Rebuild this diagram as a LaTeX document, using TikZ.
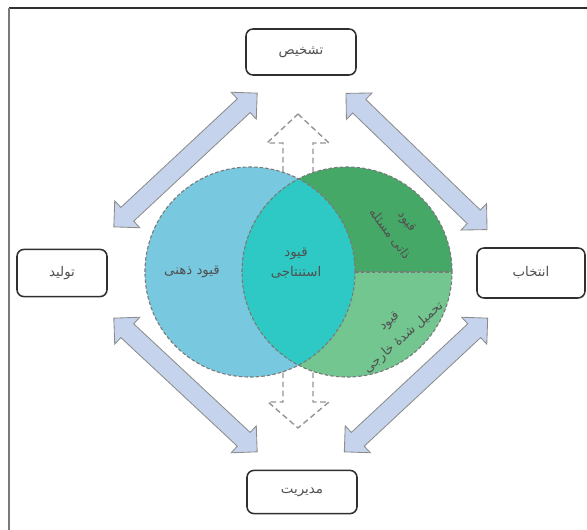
\documentclass[tikz,border=0pt]{standalone}
\usepackage{fontspec}
\usepackage{tikz}
\usetikzlibrary{shapes.arrows, calc}
\usepackage{xcolor}
\TeXXeTstate=1
\newfontfamily\persianfont[Script=Arabic]{DejaVu Sans}
\newcommand{\pers}[1]{\beginR #1\endR}
\definecolor{vennBlue}{HTML}{78C9DF}
\definecolor{vennTeal}{HTML}{2EC9C4}
\definecolor{vennGreen}{HTML}{45A867}
\definecolor{vennLight}{HTML}{73C690}
\definecolor{arrowFill}{HTML}{C5D4EC}
\definecolor{arrowDraw}{HTML}{8C8C8C}
\definecolor{textGray}{HTML}{505050}
\definecolor{dashGray}{HTML}{7A7A7A}
\definecolor{boxDraw}{HTML}{303030}

\begin{document}
\begin{tikzpicture}[
    x=0.025cm, y=-0.025cm,
    box/.style={draw=boxDraw, line width=1.1pt, rounded corners=5pt, fill=white,
        minimum width=2.75cm, minimum height=1.15cm, text=textGray,
        font=\persianfont\fontsize{9.5}{11}\selectfont},
    link/.style={double arrow, draw=arrowDraw, fill=arrowFill, line width=0.6pt,
        minimum height=4.9cm, inner sep=6.4pt, double arrow head extend=0.225cm},
    hollow/.style={draw=dashGray!80, line width=1pt, dash pattern=on 4pt off 2.5pt, fill=white},
    ring/.style={draw=dashGray, line width=0.8pt, dash pattern=on 2.5pt off 1.5pt},
    tag/.style={text=textGray, align=center, inner sep=1pt,
        font=\persianfont\fontsize{9.5}{14}\selectfont},
    slant/.style={tag, font=\persianfont\fontsize{9}{15.5}\selectfont}
]
    \useasboundingbox (0,0) rectangle (587,530);
    % frame
    \draw[boxDraw, line width=0.8pt] (9,8) -- (587,8);
    \draw[dashGray, line width=1.1pt] (9,8) -- (9,530);

    % boxes
    \node[box] (diag) at (301,52) {\pers{تشخیص}};
    \node[box, minimum width=2.25cm, minimum height=1.18cm] (prod) at (62,273) {\pers{تولید}};
    \node[box, minimum width=2.7cm, minimum height=1.25cm] (sel) at (531,273) {\pers{انتخاب}};
    \node[box, minimum height=1.08cm] (mgmt) at (302,492) {\pers{مدیریت}};

    % double arrows
    \node[link, rotate=43] (prodDiag) at (185.5,160) {};
    \node[link, rotate=-44] (diagSel) at (416.5,161.5) {};
    \node[link, rotate=-43] (prodMgmt) at (185.5,385) {};
    \node[link, rotate=43] (mgmtSel) at (416,385) {};

    % dashed arrows
    \draw[hollow] (298,114) -- (329,143) -- (313,143) -- (313,200) -- (283,200)
        -- (283,143) -- (267,143) -- cycle;
    \draw[hollow] (283,345) -- (283,402) -- (268,402) -- (298,428) -- (329,402)
        -- (313,402) -- (313,345) -- cycle;

    % venn
    \coordinate (lc) at (250,272);
    \coordinate (rc) at (347,272);
    \fill[vennBlue] (lc) circle[radius=2.625cm];
    \begin{scope}
        \clip (rc) circle[radius=2.625cm];
        \fill[vennGreen] (230,150) rectangle (470,272);
        \fill[vennLight] (230,272) rectangle (470,390);
        \clip (lc) circle[radius=2.625cm];
        \fill[vennTeal] (lc) circle[radius=2.625cm];
    \end{scope}
    \draw[ring] (lc) circle[radius=2.625cm];
    \draw[ring] (rc) circle[radius=2.625cm];
    \draw[ring] ($(lc)+(105,0)$) -- ($(rc)+(105,0)$);

    \node[tag] (mental) at (192,272) {\pers{قیود ذهنی}};
    \node[tag] (infer) at (296,263) {\pers{قیود}\\\pers{استنتاجی}};
    \node[slant, rotate=-53] (inner) at (398,228) {\pers{قیود}\\\pers{ذاتی مسئله}};
    \node[slant, rotate=41] (outer) at (397,330) {\pers{قیود}\\\pers{تحمیل شدهٔ خارجی}};
\end{tikzpicture}
\end{document}
